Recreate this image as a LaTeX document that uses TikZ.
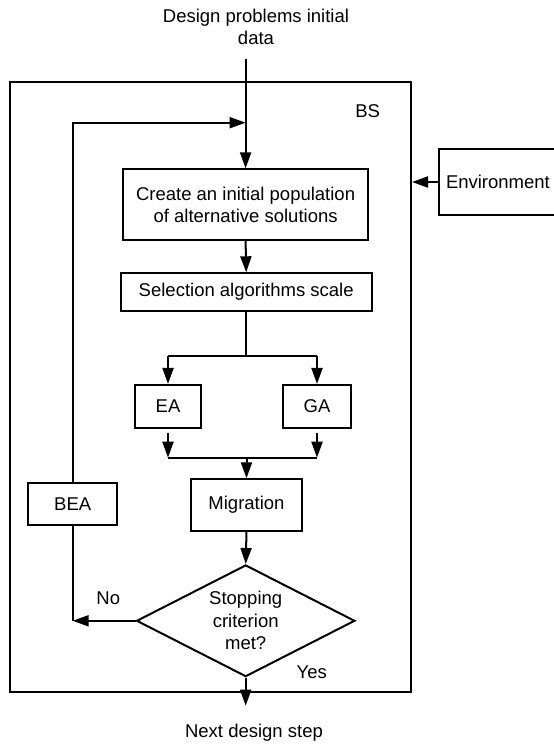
\documentclass[tikz,border=0pt]{standalone}
\usepackage{fontspec}
\setmainfont{Liberation Sans}
\usetikzlibrary{arrows.meta,shapes.geometric}

\tikzset{
  every node/.style={font=\fontsize{18.5}{22.5}\selectfont, inner sep=0pt},
  boxx/.style={draw, line width=2pt, align=center},
  conn/.style={line width=2pt},
  arr/.style={conn, -{Triangle[length=16pt,width=11pt]}},
  lbl/.style={align=center}
}

\begin{document}
\begin{tikzpicture}[x=1pt,y=-1pt]
\useasboundingbox (0,0) rectangle (554,745);

% outer frame of the BS block
\node[draw, line width=2pt, anchor=north west, minimum width=401pt, minimum height=610.3pt] (bs) at (9,80.7) {};
\node (bslabel) at (367.7,110.7) {BS};

% texts outside the frame
\node[lbl] (title) at (256,26.7) {Design problems initial\\data};
\node[lbl] (next) at (254,732.7) {Next design step};

% process boxes
\node[boxx, minimum width=244.4pt, minimum height=70.7pt] (create) at (245.6,204.7)
  {Create an initial population\\of alternative solutions};
\node[boxx, minimum width=251pt, minimum height=37.4pt] (select) at (246.2,292)
  {Selection algorithms scale};
\node[boxx, minimum width=66.6pt, minimum height=42.7pt] (ea) at (168,406.3) {EA};
\node[boxx, minimum width=67.4pt, minimum height=42.7pt] (ga) at (317,406.3) {GA};
\node[boxx, minimum width=111pt, minimum height=51.4pt] (mig) at (246.5,505) {Migration};
\node[boxx, minimum width=89.3pt, minimum height=42.3pt] (bea) at (72.7,503.8) {BEA};
\node[draw, line width=2pt, shape=diamond, aspect=1.95, align=center,
      minimum width=218.3pt, minimum height=111.7pt] (dia) at (245.7,620.8)
  {Stopping\\criterion\\met?};

% environment box, running past the right edge of the page
\node[boxx, anchor=north west, minimum height=66.6pt, text width=118pt, inner xsep=6.7pt,
      align=left] (env) at (438.3,147.7) {Environment};

% branch labels
\node (no) at (108.3,598.3) {No};
\node (yes) at (311.7,672.7) {Yes};

% junction points
\coordinate (intop) at (create.north |- 0,59.3);
\coordinate (loopl) at (bea.north |- 0,122.7);
\coordinate (loopr) at (create.north |- 0,122.7);
\coordinate (split) at (select.south |- 0,355.7);
\coordinate (splitl) at (ea.north |- split);
\coordinate (splitr) at (ga.north |- split);
\coordinate (merge) at (mig.north |- 0,457.7);
\coordinate (mergel) at (ea.south |- merge);
\coordinate (merger) at (ga.south |- merge);
\coordinate (nojoin) at (bea.south |- dia.west);
\coordinate (out) at (dia.south |- 0,705.7);

% connectors
\draw[arr] (intop) -- (create.north);
\draw[arr] (bea.north) -- (loopl) -- (loopr);
\draw[arr] (env.west) -- (bs.east |- env.west);
\draw[arr] (create.south) -- (select.north);
\draw[conn] (select.south) -- (split);
\draw[conn] (splitl) -- (splitr);
\draw[arr] (splitl) -- (ea.north);
\draw[arr] (splitr) -- (ga.north);
\draw[arr] ([yshift=-4pt]ea.south) -- (mergel);
\draw[arr] ([yshift=-4pt]ga.south) -- (merger);
\draw[conn] (mergel) -- (merger);
\draw[arr] (merge) -- (mig.north);
\draw[arr] (mig.south) -- (dia.north);
\draw[conn] (bea.south) -- (nojoin);
\draw[arr] (dia.west) -- (nojoin);
\draw[arr] (dia.south) -- (out);
\end{tikzpicture}
\end{document}
